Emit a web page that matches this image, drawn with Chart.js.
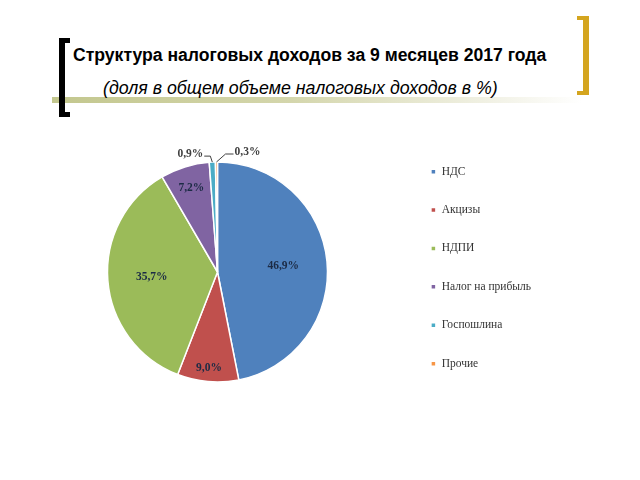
<!DOCTYPE html>
<html>
<head>
<meta charset="utf-8">
<script src="https://cdn.jsdelivr.net/npm/chart.js@4.4.3/dist/chart.umd.min.js"></script>
<style>
  html, body { margin: 0; padding: 0; background: #fff; }
  .slide { position: relative; width: 640px; height: 480px; overflow: hidden; }
  .band { position: absolute; left: 52px; top: 97px; width: 530px; height: 6px;
          background: linear-gradient(to right, #c3c78e 0%, #d4d6ac 45%, #f3f3e8 85%, #ffffff 100%); }
  .brL { position: absolute; left: 59px; top: 38px; width: 6px; height: 79px; background: #000; }
  .brL::before, .brL::after { content: ''; position: absolute; left: 0; width: 11px; height: 5px; background: #000; }
  .brL::before { top: 0; }
  .brL::after { bottom: 0; }
  .brR { position: absolute; left: 583px; top: 16px; width: 6px; height: 79px; background: #d4a51f; }
  .brR::before, .brR::after { content: ''; position: absolute; right: 0; width: 12px; height: 4px; background: #d4a51f; }
  .brR::before { top: 0; }
  .brR::after { bottom: 0; }
  .title { position: absolute; left: 73px; top: 45px; font: bold 17.6px "Liberation Sans", Arial, sans-serif; color: #000; white-space: nowrap; }
  .subtitle { position: absolute; left: 103px; top: 78px; font: italic 17.8px "Liberation Sans", Arial, sans-serif; color: #000; white-space: nowrap; }
  canvas { position: absolute; left: 0; top: 0; }
</style>
</head>
<body>
<div class="slide">
  <div class="band"></div>
  <div class="brL"></div>
  <div class="brR"></div>
  <div class="title">Структура налоговых доходов за 9 месяцев 2017 года</div>
  <div class="subtitle">(доля в общем объеме налоговых доходов в %)</div>
  <canvas id="pie" width="640" height="480"></canvas>
</div>
<script>
const categories = ['НДС', 'Акцизы', 'НДПИ', 'Налог на прибыль', 'Госпошлина', 'Прочие'];
const shares = [46.9, 9.0, 35.7, 7.2, 0.9, 0.3];
const shareLabels = ['46,9%', '9,0%', '35,7%', '7,2%', '0,9%', '0,3%'];

const colors = ['#4f81bd', '#c0504d', '#9bbb59', '#8064a2', '#4bacc6', '#f79646'];

// where each label sits: inside (fraction of radius) or outside with a leader line
const labelPlacement = [
    { r: 0.6 },
    { r: 0.88 },
    { r: 0.6 },
    { r: 0.8 },
    { out: true, dx: -22, dy: -8, side: 'left' },
    { out: true, dx: 31, dy: -10, side: 'right' }
];

const serif = '"Liberation Serif", "Times New Roman", serif';

const sliceLabels = {
    id: 'sliceLabels',
    afterDatasetsDraw(chart) {
        const { ctx } = chart;
        const meta = chart.getDatasetMeta(0);
        ctx.save();
        meta.data.forEach((arc, i) => {
            const p = labelPlacement[i];
            const mid = (arc.startAngle + arc.endAngle) / 2;
            ctx.font = 'bold 11.5px ' + serif;
            ctx.textAlign = 'center';
            ctx.textBaseline = 'middle';
            if (!p.out) {
                const x = arc.x + Math.cos(mid) * arc.outerRadius * p.r;
                const y = arc.y + Math.sin(mid) * arc.outerRadius * p.r;
                ctx.fillStyle = '#1c2b45';
                ctx.fillText(shareLabels[i], x, y);
                return;
            }
            const ax = arc.x + Math.cos(mid) * arc.outerRadius;
            const ay = arc.y + Math.sin(mid) * arc.outerRadius;
            const tx = ax + p.dx;
            const ty = ay + p.dy;
            const w = ctx.measureText(shareLabels[i]).width;
            ctx.fillStyle = '#404040';
            ctx.fillText(shareLabels[i], tx, ty);
            ctx.strokeStyle = '#404040';
            ctx.lineWidth = 1;
            ctx.beginPath();
            if (p.side === 'left') {
                const ex = tx + w / 2 + 1;
                ctx.moveTo(ex, ty + 2);
                ctx.lineTo(ax - 2, ty + 2);
                ctx.lineTo(ax, ay);
            } else {
                const ex = tx - w / 2 - 1;
                ctx.moveTo(ex, ty + 2);
                ctx.lineTo(ex - 8, ty + 2);
                ctx.lineTo(ax, ay);
            }
            ctx.stroke();
        });
        ctx.restore();
    }
};

const chart = new Chart(document.getElementById('pie'), {
    type: 'pie',
    data: {
        labels: categories,
        datasets: [{
            data: shares,
            backgroundColor: colors,
            borderColor: '#ffffff',
            borderWidth: 1.5,
            hoverOffset: 0,
            radius: 110
        }]
    },
    options: {
        responsive: false,
        animation: false,
        layout: { padding: { left: 31, top: 139, bottom: 75, right: 99 } },
        plugins: {
            tooltip: { enabled: false },
            legend: {
                position: 'right',
                align: 'start',
                labels: {
                    boxWidth: 5,
                    boxHeight: 5,
                    padding: 26.9,
                    color: '#333333',
                    font: { family: serif, size: 11.5 }
                }
            }
        }
    },
    plugins: [sliceLabels]
});
</script>
</body>
</html>
